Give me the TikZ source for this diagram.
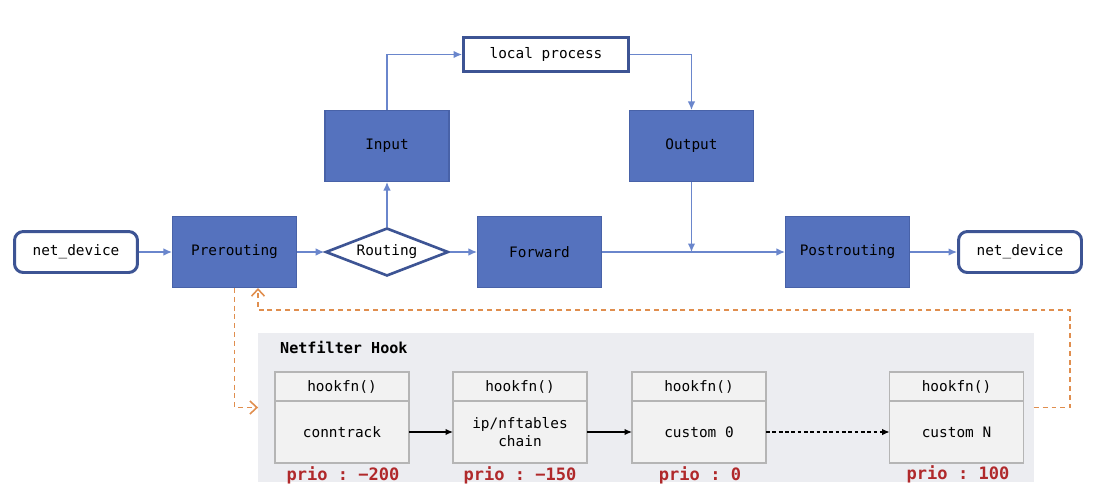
\documentclass[tikz,border=0pt]{standalone}
\usepackage{fontspec}
\setmonofont{DejaVu Sans Mono}
\usetikzlibrary{arrows.meta,shapes.geometric,positioning}
\definecolor{hookblue}{HTML}{5572BE}
\definecolor{edgeblue}{HTML}{4862A8}
\definecolor{darkblue}{HTML}{3D5494}
\definecolor{lineblue}{HTML}{6A86CC}
\definecolor{dashorange}{HTML}{E08E4E}
\definecolor{hookgray}{HTML}{ECEDF1}
\definecolor{boxgray}{HTML}{F2F2F2}
\definecolor{boxedge}{HTML}{B5B5B5}
\definecolor{priored}{HTML}{B0292B}

\begin{document}
\begin{tikzpicture}[x=0.02cm,y=-0.02cm,
	font=\ttfamily\fontsize{8.2}{10}\selectfont,
	stage/.style={draw=edgeblue,fill=hookblue,line width=0.6pt,minimum width=2.48cm,minimum height=1.42cm},
	devbox/.style={draw=darkblue,fill=white,line width=1.7pt,rounded corners=5pt,minimum width=2.46cm,minimum height=0.82cm},
	procbox/.style={draw=darkblue,fill=white,line width=1.7pt,minimum width=3.3cm,minimum height=0.68cm},
	decide/.style={diamond,aspect=2.5,draw=darkblue,fill=white,line width=1.5pt,inner sep=0pt,minimum width=2.46cm,minimum height=0.96cm},
	fnhead/.style={draw=boxedge,fill=boxgray,line width=0.8pt,outer sep=0pt,minimum width=2.68cm,minimum height=0.58cm},
	fnbody/.style={draw=boxedge,fill=boxgray,line width=0.8pt,outer sep=0pt,minimum width=2.68cm,minimum height=1.24cm,align=center},
	prio/.style={text=priored,font=\ttfamily\bfseries\fontsize{9.7}{11}\selectfont},
	flow/.style={draw=lineblue,line width=0.75pt,-{Latex[length=1.7mm,width=1.5mm]}},
	chain/.style={line width=0.7pt,-{Latex[length=1.5mm,width=1.3mm]}},
	back/.style={draw=dashorange,line width=0.9pt,dash pattern=on 2.8pt off 2.2pt,-{Straight Barb[length=1.4mm,width=2.6mm]}}]
	\useasboundingbox (0,0) rectangle (1116,488);

	\node[devbox] (dev1) at (76,252) {net\_device};
	\node[stage] (pre) at (234.5,252) {Prerouting};
	\node[decide] (rout) at (387,252) {Routing};
	\node[stage] (inp) at (387,146) {Input};
	\node[procbox] (lp) at (546,54.5) {local process};
	\node[stage] (outp) at (691.5,146) {Output};
	\node[stage] (fwd) at (539.5,252) {Forward};
	\node[stage] (post) at (847.5,252) {Postrouting};
	\node[devbox] (dev2) at (1020,252) {net\_device};

	\draw[flow] (dev1) -- (pre);
	\draw[flow] (pre) -- (rout);
	\draw[flow] (rout) -- (fwd);
	\draw[flow] (rout) -- (inp);
	\draw[flow] (inp) |- (lp);
	\draw[flow] (lp) -| (outp);
	\draw[flow] (outp) -- (outp |- fwd.east);
	\draw[flow] (fwd) -- (post);
	\draw[flow] (post) -- (dev2);

	\node[fill=hookgray,inner sep=0pt,outer sep=0pt,minimum width=15.52cm,minimum height=2.98cm] (hook) at (646,407.5) {};
	\node[anchor=west,font=\ttfamily\bfseries\fontsize{8.6}{10}\selectfont] (title) at (274,347) {Netfilter Hook};

	\node[fnhead] (hd1) at (342,386.5) {hookfn()};
	\node[fnbody,below=0pt of hd1] (fn1) {conntrack};
	\node[fnhead] (hd2) at (520,386.5) {hookfn()};
	\node[fnbody,below=0pt of hd2] (fn2) {ip/nftables\\chain};
	\node[fnhead] (hd3) at (699,386.5) {hookfn()};
	\node[fnbody,below=0pt of hd3] (fn3) {custom 0};
	\node[fnhead] (hd4) at (956.5,386.5) {hookfn()};
	\node[fnbody,below=0pt of hd4] (fn4) {custom N};

	\node[prio] (p1) at (343,475) {prio : −200};
	\node[prio] (p2) at (520,475) {prio : −150};
	\node[prio] (p3) at (700,475) {prio : 0};
	\node[prio] (p4) at (958,474) {prio : 100};

	\draw[chain] (fn1) -- (fn2);
	\draw[chain] (fn2) -- (fn3);
	\draw[chain,line width=0.6pt,dash pattern=on 2.2pt off 1.4pt] (fn3) -- (fn4);

	\coordinate (bk1) at (1070,310);
	\coordinate (bk2) at (258,310);
	\draw[back] (pre) |- (hook.west);
	\draw[back] (hook.east) -| (bk1) -- (bk2) -- (bk2 |- pre.south);
\end{tikzpicture}
\end{document}
